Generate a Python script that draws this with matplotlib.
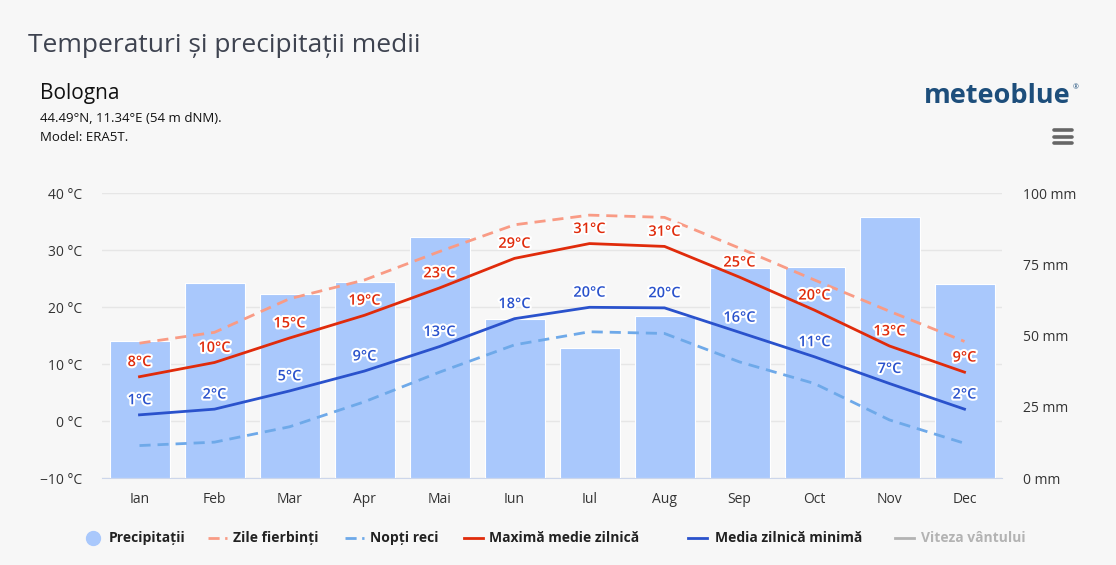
import matplotlib.pyplot as plt
import matplotlib.patheffects as pe
from matplotlib.lines import Line2D

months = ["Ian", "Feb", "Mar", "Apr", "Mai", "Iun", "Iul", "Aug", "Sep", "Oct", "Nov", "Dec"]
precip_mm = [48.3, 68.4, 64.6, 68.9, 84.6, 55.8, 45.6, 57.0, 73.7, 74.2, 91.7, 68.1]
max_temp = [7.8, 10.3, 14.6, 18.6, 23.4, 28.6, 31.2, 30.7, 25.3, 19.5, 13.2, 8.6]
min_temp = [1.1, 2.1, 5.3, 8.8, 13.1, 18.0, 20.0, 19.9, 15.6, 11.3, 6.6, 2.1]
hot_days = [13.7, 15.6, 21.5, 24.8, 29.8, 34.5, 36.2, 35.8, 30.4, 24.8, 19.3, 14.0]
cold_nights = [-4.3, -3.7, -1.0, 3.4, 8.6, 13.4, 15.7, 15.4, 10.4, 6.6, 0.2, -3.9]
temp_ticks = [-10, 0, 10, 20, 30, 40]
mm_ticks = [0, 25, 50, 75, 100]

BG = "#f7f7f7"
BAR = "#a9c8fc"
RED = "#e02b0b"
BLUE = "#2a52cc"
HOT = "#f99b85"
COLD = "#6ea9e9"
GRAY = "#b3b3b3"

plt.rcParams["font.family"] = ["Open Sans", "DejaVu Sans"]


def main():
    W, H = 1116, 565
    fig = plt.figure(figsize=(W / 100, H / 100), dpi=100, facecolor=BG)

    rect = [102 / W, 87 / H, 900 / W, 284.5 / H]
    ax = fig.add_axes(rect)
    ax.set_facecolor(BG)
    x = list(range(len(months)))

    # background grid + left axis
    ax.set_ylim(-10, 40)
    ax.set_xlim(-0.5, len(months) - 0.5)
    ax.set_yticks(temp_ticks)
    ax.set_yticklabels([f"{t} °C".replace("-", "\u2212") for t in temp_ticks])
    ax.set_xticks(x)
    ax.set_xticklabels(months)
    ax.grid(axis="y", color="#e6e6e6", lw=1)
    ax.tick_params(axis="y", length=0, pad=14, labelsize=10, labelcolor="#333333")
    ax.tick_params(axis="x", length=0, pad=10, labelsize=10, labelcolor="#333333")
    for s in ["top", "left", "right"]:
        ax.spines[s].set_visible(False)
    ax.spines["bottom"].set_color("#ccd6eb")

    # precipitation bars on right axis
    axb = ax.twinx()
    axb.bar(x, precip_mm, width=0.8, color=BAR, edgecolor="white", linewidth=0.8)
    axb.set_ylim(0, 100)
    axb.set_yticks(mm_ticks)
    axb.set_yticklabels([f"{m} mm" for m in mm_ticks])
    axb.tick_params(axis="y", length=0, pad=15, labelsize=10, labelcolor="#333333")
    for s in axb.spines.values():
        s.set_visible(False)

    # temperature lines on top
    axl = fig.add_axes(rect, sharex=ax, sharey=ax)
    axl.patch.set_visible(False)
    axl.axis("off")
    axl.plot(x, hot_days, color=HOT, lw=2, ls=(0, (4, 2.5)))
    axl.plot(x, cold_nights, color=COLD, lw=2, ls=(0, (4, 2.5)))
    axl.plot(x, max_temp, color=RED, lw=2)
    axl.plot(x, min_temp, color=BLUE, lw=2)

    stroke = [pe.withStroke(linewidth=3, foreground="white")]
    for series, col in [(max_temp, RED), (min_temp, BLUE)]:
        for i, v in enumerate(series):
            axl.annotate(f"{round(v)}°C", (i, v), xytext=(0, 10.5), textcoords="offset points",
                         ha="center", va="center", fontsize=10.5, fontweight="semibold",
                         color=col, path_effects=stroke)

    # header texts
    fig.text(28 / W, 1 - 46 / H, "Temperaturi și precipitații medii", fontsize=19,
             color="#3e4350", va="center", ha="left")
    fig.text(40 / W, 1 - 94 / H, "Bologna", fontsize=15, color="#111111", va="center")
    fig.text(40 / W, 1 - 119 / H, "44.49°N, 11.34°E (54 m dNM).", fontsize=9.5,
             color="#111111", va="center")
    fig.text(40 / W, 1 - 137 / H, "Model: ERA5T.", fontsize=9.5, color="#111111", va="center")
    fig.text(1071 / W, 1 - 96 / H, "meteoblue", fontsize=19.5, fontweight="bold",
             color="#1d4e7b", ha="right", va="center")
    fig.text(1073 / W, 1 - 88 / H, "®", fontsize=5, color="#1d4e7b", ha="left", va="center")
    for yy in [130, 136.5, 143]:
        fig.add_artist(Line2D([1054 / W, 1072 / W], [1 - yy / H, 1 - yy / H], color="#666666",
                              lw=2.6, solid_capstyle="round"))

    # legend drawn along the bottom
    ly = 1 - 537.7 / H
    fig.add_artist(Line2D([93 / W], [ly], marker="o", markersize=10, color=BAR, lw=0))
    items = [
        (208, 233, HOT, (0, (4, 2)), "Zile fierbinți", "#222222"),
        (345, 370, COLD, (0, (4, 2)), "Nopți reci", "#222222"),
        (464, 489, RED, "-", "Maximă medie zilnică", "#222222"),
        (688, 715, BLUE, "-", "Media zilnică minimă", "#222222"),
        (895, 921, GRAY, "-", "Viteza vântului", GRAY),
    ]
    fig.text(109 / W, ly, "Precipitații", fontsize=10, fontweight="bold", color="#222222",
             va="center")
    for x0, tx, col, ls, label, tcol in items:
        fig.add_artist(Line2D([x0 / W, (x0 + 19) / W], [ly, ly], color=col, lw=2, ls=ls))
        fig.text(tx / W, ly, label, fontsize=10, fontweight="bold", color=tcol, va="center")

    fig.savefig("out.png", dpi=100, facecolor=BG)


if __name__ == "__main__":
    main()
